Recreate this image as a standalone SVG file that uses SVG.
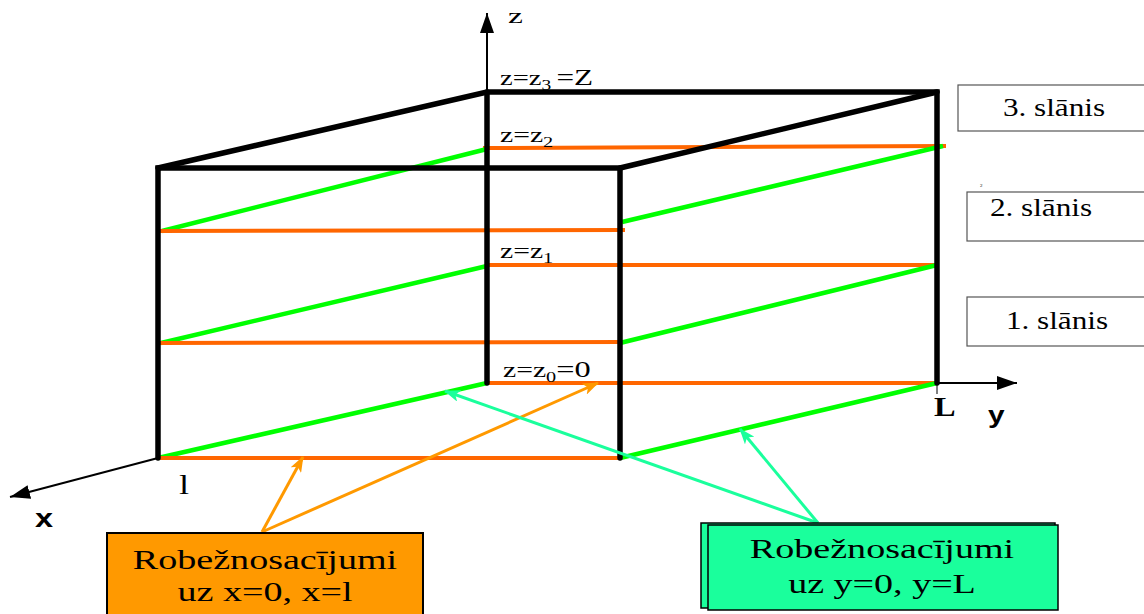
<svg xmlns="http://www.w3.org/2000/svg" width="1144" height="614" viewBox="0 0 1144 614">
<style>
.edge{stroke:#000;stroke-width:5.5;fill:none;stroke-linecap:round}
.or{stroke:#FF6600;stroke-width:4;fill:none}
.gr{stroke:#00FF00;stroke-width:4.5;fill:none}
.axis{stroke:#000;stroke-width:2;fill:none}
.aor{stroke:#FF9900;stroke-width:3;fill:none}
.agr{stroke:#1AFF9C;stroke-width:3;fill:none}
.t{font-family:"Liberation Serif","Times New Roman",serif;fill:#000}
.s{font-family:"Liberation Sans",Arial,sans-serif;font-weight:bold;fill:#000}
.layer{fill:#fff;stroke:#555;stroke-width:1.2}
.mid{text-anchor:middle}
</style>
<defs>
<marker id="ah" markerUnits="userSpaceOnUse" markerWidth="20" markerHeight="14" refX="20" refY="7" orient="auto">
<path d="M0,0 L20,7 L0,14 z" fill="#000"/>
</marker>
<marker id="aho" markerUnits="userSpaceOnUse" markerWidth="16" markerHeight="12" refX="15" refY="6" orient="auto">
<path d="M0,0 L16,6 L0,12 L4,6 z" fill="#FF9900"/>
</marker>
<marker id="ahg" markerUnits="userSpaceOnUse" markerWidth="16" markerHeight="12" refX="15" refY="6" orient="auto">
<path d="M0,0 L16,6 L0,12 L4,6 z" fill="#1AFF9C"/>
</marker>
</defs>

<g id="axes">
<line class="axis" x1="487" y1="92" x2="487" y2="13" marker-end="url(#ah)"/>
<line class="axis" x1="937" y1="383" x2="1017" y2="383" marker-end="url(#ah)"/>
<line class="axis" x1="158" y1="458" x2="10" y2="497" marker-end="url(#ah)"/>
<line x1="937" y1="383" x2="937" y2="394" stroke="#000" stroke-width="1"/>
<text class="t" font-size="21" transform="translate(508,23) scale(1.6,1)">z</text>
<text class="s" font-size="23" transform="translate(988,423) scale(1.3,1)">y</text>
<text class="t" font-size="27" font-weight="bold" transform="translate(934,416) scale(1.2,1)">L</text>
<text class="s" font-size="25" transform="translate(35,527) scale(1.3,1)">x</text>
<text class="t" font-size="28" transform="translate(179,494) scale(1.3,1)">l</text>
</g>

<g id="layers">
<line class="or" x1="483" y1="148" x2="946" y2="146"/>
<line class="gr" x1="162" y1="231" x2="487" y2="149"/>
<line class="gr" x1="622" y1="222" x2="943" y2="146"/>
<line class="or" x1="160" y1="231" x2="625" y2="230"/>

<line class="or" x1="487" y1="265" x2="937" y2="265"/>
<line class="gr" x1="161" y1="343" x2="487" y2="266"/>
<line class="gr" x1="620" y1="343" x2="937" y2="265"/>
<line class="or" x1="160" y1="343" x2="622" y2="342"/>

<line class="or" x1="487" y1="383" x2="937" y2="383"/>
<line class="gr" x1="158" y1="458" x2="487" y2="383"/>
<line class="gr" x1="620" y1="458" x2="937" y2="383"/>
<line class="or" x1="158" y1="458" x2="620" y2="458"/>
</g>

<g id="box">
<path class="edge" d="M158,458 L158,168 L620,168 L620,458"/>
<path class="edge" d="M158,168 L487,92 L937,92 L937,383"/>
<path class="edge" d="M620,168 L937,92"/>
<path class="edge" d="M487,92 L487,383"/>
</g>

<g id="zlabels" class="t" font-size="22">
<text transform="translate(500,85) scale(1.3,1)">z=z<tspan font-size="15" dy="5">3</tspan><tspan dy="-5" dx="4" font-size="24">=Z</tspan></text>
<text transform="translate(500,142) scale(1.35,1)">z=z<tspan font-size="15" dy="5">2</tspan></text>
<text transform="translate(500,258) scale(1.35,1)">z=z<tspan font-size="15" dy="5">1</tspan></text>
<text transform="translate(503,377) scale(1.35,1)">z=z<tspan font-size="15" dy="5">0</tspan><tspan dy="-5" font-size="24">=0</tspan></text>
</g>

<g id="layer3">
<rect class="layer" x="958" y="85" width="190" height="46"/>
<text class="t mid" font-size="26" transform="translate(1054,116) scale(1.2,1)">3. slānis</text>
</g>
<g id="layer2">
<rect class="layer" x="967" y="192" width="180" height="49"/>
<text class="t" x="980" y="187" font-size="5">2</text>
<text class="t mid" font-size="26" transform="translate(1041,216) scale(1.2,1)">2. slānis</text>
</g>
<g id="layer1">
<rect class="layer" x="967" y="297" width="180" height="49"/>
<text class="t mid" font-size="26" transform="translate(1057,329) scale(1.2,1)">1. slānis</text>
</g>

<g id="connectors">
<line class="aor" x1="262" y1="532" x2="303" y2="457" marker-end="url(#aho)"/>
<line class="aor" x1="262" y1="532" x2="598" y2="383" marker-end="url(#aho)"/>
<line class="agr" x1="818" y1="523" x2="445" y2="391" marker-end="url(#ahg)"/>
<line class="agr" x1="818" y1="523" x2="740" y2="429" marker-end="url(#ahg)"/>
</g>

<g id="bc-x">
<rect x="107" y="533" width="316" height="90" fill="#FF9900" stroke="#000" stroke-width="2"/>
<text class="t mid" font-size="28" transform="translate(265,569) scale(1.36,1)">Robežnosacījumi</text>
<text class="t mid" font-size="28" transform="translate(265,601) scale(1.36,1)">uz x=0, x=l</text>
</g>

<g id="bc-y">
<rect x="701" y="523" width="354" height="85" fill="#1AFF9C" stroke="#000" stroke-width="1.5"/>
<rect x="708" y="525" width="350" height="85" fill="#1AFF9C" stroke="#000" stroke-width="1.5"/>
<text class="t mid" font-size="28" transform="translate(882,558) scale(1.36,1)">Robežnosacījumi</text>
<text class="t mid" font-size="28" transform="translate(882,593) scale(1.36,1)">uz y=0, y=L</text>
</g>
</svg>
